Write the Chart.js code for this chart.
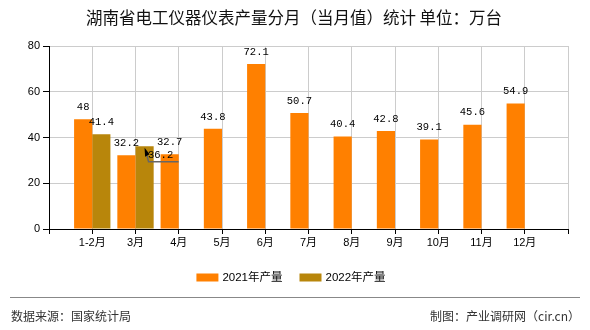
<!DOCTYPE html>
<html>
<head>
<meta charset="utf-8">
<script src="https://cdn.jsdelivr.net/npm/chart.js@4/dist/chart.umd.min.js"></script>
<style>
  html, body { margin: 0; padding: 0; background: #fff; }
  #wrap { width: 590px; height: 330px; position: relative; }
</style>
</head>
<body>
<div id="wrap"><canvas id="c" width="590" height="330"></canvas></div>
<script>
const TITLE = '湖南省电工仪器仪表产量分月（当月值）统计 单位：万台';
const categories = ['1-2月', '3月', '4月', '5月', '6月', '7月', '8月', '9月', '10月', '11月', '12月'];
const output2021 = [48, 32.2, 32.7, 43.8, 72.1, 50.7, 40.4, 42.8, 39.1, 45.6, 54.9];
const output2022 = [41.4, 36.2, null, null, null, null, null, null, null, null, null];
const yTicks = [0, 20, 40, 60, 80];
const SOURCE_LEFT = '数据来源：国家统计局';
const SOURCE_RIGHT = '制图：产业调研网（cir.cn）';

// categories sit on the grid lines, one empty slot at each end
const labels = ['', ...categories, ''];
const pad = arr => [null, ...arr, null];

const CJK = '"Liberation Sans", "Noto Sans CJK SC", sans-serif';
const MONO = '"Liberation Mono", "DejaVu Sans Mono", monospace';

const decor = {
  id: 'decor',
  afterDatasetsDraw(chart) {
    const ctx = chart.ctx;
    ctx.save();
    ctx.font = '10.5px ' + MONO;
    ctx.textAlign = 'center';
    ctx.textBaseline = 'middle';
    chart.data.datasets.forEach((ds, di) => {
      chart.getDatasetMeta(di).data.forEach((bar, i) => {
        const v = ds.data[i];
        if (v == null) return;
        let x = bar.x, y = bar.y - 12;
        // the 3月 2022 label was pushed aside with a leader line
        if (di === 1 && i === 2) {
          x = bar.x + 16; y = bar.y + 9;
          ctx.strokeStyle = '#666';
          ctx.lineWidth = 1.5;
          ctx.beginPath();
          ctx.moveTo(bar.x + 34, bar.y + 15.5);
          ctx.lineTo(bar.x + 4, bar.y + 15.5);
          ctx.lineTo(bar.x + 2, bar.y + 8);
          ctx.stroke();
          ctx.fillStyle = '#000';
          ctx.beginPath();
          ctx.moveTo(bar.x, bar.y + 1.5);
          ctx.lineTo(bar.x + 0.5, bar.y + 10.5);
          ctx.lineTo(bar.x + 5, bar.y + 8);
          ctx.closePath();
          ctx.fill();
        }
        ctx.fillStyle = '#000';
        ctx.fillText(String(v), x, y);
      });
    });
    ctx.restore();
  },
  afterDraw(chart) {
    const ctx = chart.ctx;
    ctx.save();
    ctx.fillStyle = '#111';
    ctx.textAlign = 'center';
    ctx.textBaseline = 'middle';
    ctx.font = '16.5px "Noto Sans CJK SC", sans-serif';
    ctx.fillText(TITLE, 294, 18);

    // legend
    ctx.font = '11.5px ' + CJK;
    ctx.textAlign = 'left';
    const items = chart.data.datasets.map(d => ({ label: d.label, color: d.backgroundColor }));
    const box = 22, gap = 4, sep = 17;
    const widths = items.map(it => box + gap + ctx.measureText(it.label).width);
    let x = 291 - (widths.reduce((a, b) => a + b, 0) + sep * (items.length - 1)) / 2;
    items.forEach((it, k) => {
      ctx.fillStyle = it.color;
      ctx.fillRect(x, 273.5, box, 8);
      ctx.fillStyle = '#000';
      ctx.fillText(it.label, x + box + gap, 277.5);
      x += widths[k] + sep;
    });

    // footer
    ctx.strokeStyle = '#888';
    ctx.lineWidth = 1;
    ctx.beginPath();
    ctx.moveTo(10, 297.5);
    ctx.lineTo(580, 297.5);
    ctx.stroke();
    ctx.fillStyle = '#333';
    ctx.font = '12px "Noto Sans CJK SC", sans-serif';
    ctx.fillText(SOURCE_LEFT, 11, 316);
    ctx.textAlign = 'right';
    ctx.fillText(SOURCE_RIGHT, 580, 316);
    ctx.restore();
  }
};

new Chart(document.getElementById('c'), {
  type: 'bar',
  data: {
    labels,
    datasets: [
      { label: '2021年产量', data: pad(output2021), backgroundColor: '#FF8000', borderWidth: 0 },
      { label: '2022年产量', data: pad(output2022), backgroundColor: '#B8860B', borderWidth: 0 }
    ]
  },
  options: {
    responsive: false,
    animation: false,
    events: [],
    layout: { padding: { left: 0, top: 46, right: 22, bottom: 0 } },
    datasets: { bar: { categoryPercentage: 0.84, barPercentage: 1 } },
    plugins: { legend: { display: false }, title: { display: false }, tooltip: { enabled: false } },
    scales: {
      x: {
        offset: false,
        grid: { color: '#ccc', tickColor: '#000', tickLength: 5, offset: false },
        border: { color: '#000', width: 1 },
        ticks: { color: '#000', font: { family: CJK, size: 11 }, maxRotation: 0, autoSkip: false, padding: 2 },
        afterFit(s) { s.height = 330 - 229 - 0; }
      },
      y: {
        min: 0, max: 80,
        afterBuildTicks(s) { s.ticks = yTicks.map(v => ({ value: v })); },
        grid: { color: '#ccc', tickColor: '#000', tickLength: 6 },
        border: { color: '#000', width: 1 },
        ticks: { color: '#000', font: { family: CJK, size: 11 }, padding: 3 },
        afterFit(s) { s.width = 49; }
      }
    }
  },
  plugins: [decor]
});
</script>
</body>
</html>
